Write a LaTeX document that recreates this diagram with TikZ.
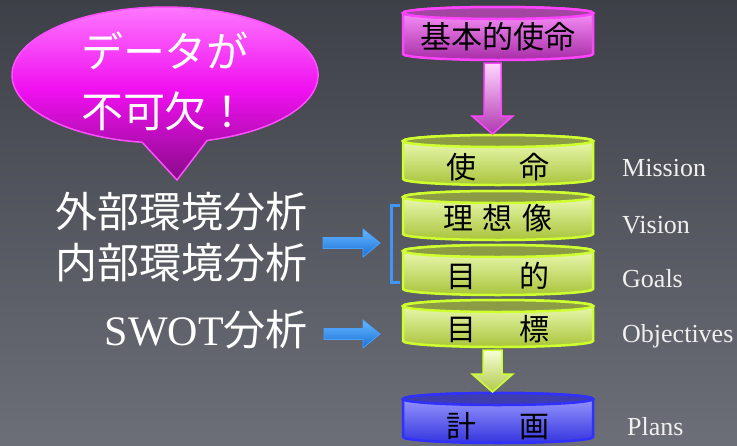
\documentclass[tikz,border=0pt]{standalone}
\usepackage{fontspec}
\setmainfont{Liberation Serif}
\newfontfamily\jp{Noto Sans CJK JP}
\usetikzlibrary{calc}
\definecolor{bgtop}{HTML}{3D4047}
\definecolor{bgbot}{HTML}{6C6F77}
\definecolor{bubtop}{HTML}{FF80FF}
\definecolor{bubmid}{HTML}{F010F0}
\definecolor{bubbot}{HTML}{8A0A8A}
\definecolor{bubedge}{HTML}{FF50FF}
\definecolor{limetop}{HTML}{F2FFC0}
\definecolor{limebot}{HTML}{A9C43A}
\definecolor{limeend}{HTML}{8B9C45}
\definecolor{limeedge}{HTML}{D0FF30}
\definecolor{magtop}{HTML}{FF99FF}
\definecolor{magbot}{HTML}{A82CA8}
\definecolor{magend}{HTML}{A445A4}
\definecolor{magedge}{HTML}{FF44FF}
\definecolor{blutop}{HTML}{A0A0FF}
\definecolor{blubot}{HTML}{3535E0}
\definecolor{bluend}{HTML}{3D3DB0}
\definecolor{bluedge}{HTML}{3030FF}
\definecolor{arrtop}{HTML}{66B8FF}
\definecolor{arrbot}{HTML}{1A70D8}
\definecolor{arredge}{HTML}{4AA0FF}
\newcommand{\drawcyl}[7]{% name, ytop, ybot, bodytop, bodybot, endfill, edge
  \path[top color=#4, bottom color=#5, draw=#7, line width=2.5pt]
    (403,#2+6) -- (403,#3-6) arc[start angle=180,end angle=0,x radius=95,y radius=6]
    -- (593,#2+6) arc[start angle=0,end angle=-180,x radius=95,y radius=6] -- cycle;
  \path[fill=#6, draw=#7, line width=2.5pt] (498,#2+6) ellipse[x radius=95,y radius=6];
  \coordinate (#1-in) at (492.5,#2);
  \coordinate (#1-out) at (492.5,#3);
}
\newcommand{\varrow}[5]{% from, to, half shaft, half head, style
  \path[#5] ($(#1)+(-#3,3)$) -- ($(#2)+(-#3,-19)$) -- ($(#2)+(-#4,-19)$) -- ($(#2)+(0,-1)$)
    -- ($(#2)+(#4,-19)$) -- ($(#2)+(#3,-19)$) -- ($(#1)+(#3,3)$) -- cycle;
}
\newcommand{\harrow}[2]{% from, to
  \path[harrowstyle] ($(#1)+(0,-5.5)$) -- ($(#2)+(-17,-5.5)$) -- ($(#2)+(-17,-14)$) -- (#2)
    -- ($(#2)+(-17,14)$) -- ($(#2)+(-17,5.5)$) -- ($(#1)+(0,5.5)$) -- cycle;
}
\begin{document}
\begin{tikzpicture}[x=1pt,y=-1pt,
  cyltext/.style={inner sep=0pt, font=\jp\fontsize{30}{30}\selectfont, text=black},
  lefttext/.style={inner sep=0pt, anchor=east, text=white, font=\jp\fontsize{42}{51}\selectfont, align=right},
  engl/.style={inner sep=0pt, anchor=base west, text=white!94!black, font=\fontsize{26}{26}\selectfont},
  magarrow/.style={top color=magtop!40!white, bottom color=magbot!90!magtop, draw=magedge, line width=1.5pt},
  limearrow/.style={top color=limetop!60!white, bottom color=limebot!90!limetop, draw=limeedge, line width=1.5pt},
  harrowstyle/.style={top color=arrtop, bottom color=arrbot, draw=arredge, line width=0.8pt},
  bracketline/.style={draw=arredge!80!arrbot, line width=3pt}]
\useasboundingbox (0,0) rectangle (737,445);
\shade[top color=bgtop, bottom color=bgbot] (0,0) rectangle (737,445);

% speech bubble
\path[draw=bubedge, line width=1.5pt, top color=bubtop, bottom color=bubbot, middle color=bubmid]
  (207.2,140.4) arc[start angle=74,end angle=-261.4,x radius=153,y radius=68] -- (177,180) -- cycle;
\node[inner sep=0pt, text=white, align=center, font=\jp\fontsize{42}{60}\selectfont] (bubtext) at (165,81) {データが\\不可欠！};

% cylinders
\drawcyl{base}{7}{60}{magtop}{magbot}{magend}{magedge}
\node[cyltext, font=\jp\fontsize{31}{31}\selectfont] (base) at (498,37) {基本的使命};
\drawcyl{mission}{135}{185}{limetop}{limebot}{limeend}{limeedge}
\node[cyltext] (mission) at (498,167) {使\hspace{44pt}命};
\drawcyl{vision}{191}{240}{limetop}{limebot}{limeend}{limeedge}
\node[cyltext] (vision) at (498,218) {理\hspace{10pt}想\hspace{10pt}像};
\drawcyl{goals}{245}{295}{limetop}{limebot}{limeend}{limeedge}
\node[cyltext] (goals) at (498,276) {目\hspace{44pt}的};
\drawcyl{objectives}{300}{347}{limetop}{limebot}{limeend}{limeedge}
\node[cyltext] (objectives) at (498,329) {目\hspace{44pt}標};
\drawcyl{plans}{393}{443}{blutop}{blubot}{bluend}{bluedge}
\node[cyltext] (plans) at (498,426) {計\hspace{44pt}画};

% vertical arrows
\varrow{base-out}{mission-in}{8.5}{20.5}{magarrow}
\varrow{objectives-out}{plans-in}{9.5}{20.5}{limearrow}

% left texts
\node[lefttext] (envs) at (308,237.5) {外部環境分析\\内部環境分析};
\node[lefttext] (swot) at (308,330) {\fontspec{Liberation Serif}SWOT\jp 分析};

% bracket and blue arrows
\draw[bracketline] (400,205) -- (391,205) -- (391,282) -- (400,282);
\coordinate (brk) at (380,243);
\coordinate (a1s) at ($(envs.east |- brk)+(15,0)$);
\harrow{a1s}{brk}
\coordinate (objin) at (380,334);
\coordinate (a2s) at ($(swot.east |- objin)+(16,0)$);
\harrow{a2s}{objin}

% english labels
\node[engl] (mission-en) at (622,176) {Mission};
\node[engl] (vision-en) at (622,233) {Vision};
\node[engl] (goals-en) at (622,287) {Goals};
\node[engl] (objectives-en) at (622,342) {Objectives};
\node[engl] (plans-en) at (627,435) {Plans};
\end{tikzpicture}
\end{document}
